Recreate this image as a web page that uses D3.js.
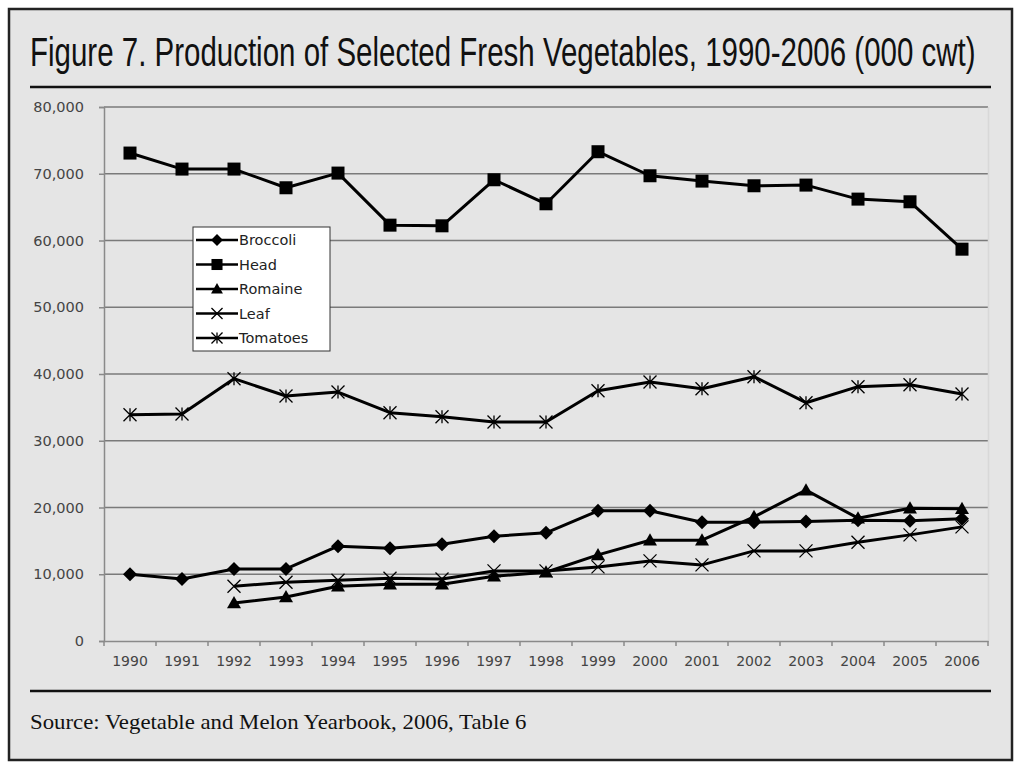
<!DOCTYPE html>
<html>
<head>
<meta charset="utf-8">
<script src="https://cdn.jsdelivr.net/npm/d3@7"></script>
<style>
  html, body { margin: 0; padding: 0; background: #ffffff; }
  svg { display: block; }
</style>
</head>
<body>
<svg id="chart" width="1015" height="762"></svg>
<script>
// Fresh vegetable production, thousand hundredweight
const years = ["1990","1991","1992","1993","1994","1995","1996","1997","1998","1999","2000","2001","2002","2003","2004","2005","2006"];
const broccoli = [10000, 9300, 10800, 10800, 14200, 13900, 14500, 15700, 16200, 19500, 19500, 17800, 17800, 17900, 18100, 18000, 18300];
const head     = [73100, 70700, 70700, 67900, 70100, 62300, 62200, 69100, 65500, 73300, 69700, 68900, 68200, 68300, 66200, 65800, 58700];
const romaine  = [null, null, 5700, 6600, 8200, 8500, 8500, 9700, 10300, 12900, 15100, 15100, 18600, 22600, 18400, 19900, 19800];
const leaf     = [null, null, 8200, 8800, 9100, 9400, 9300, 10500, 10500, 11100, 12000, 11400, 13500, 13500, 14800, 15900, 17100];
const tomatoes = [33900, 34000, 39300, 36700, 37300, 34200, 33600, 32800, 32800, 37500, 38800, 37800, 39600, 35700, 38100, 38400, 37000];
const yTicks = [0, 10000, 20000, 30000, 40000, 50000, 60000, 70000, 80000];

const seriesNames = ["Broccoli", "Head", "Romaine", "Leaf", "Tomatoes"];
const seriesValues = [broccoli, head, romaine, leaf, tomatoes];
const seriesMarkers = ["diamond", "square", "triangle", "x", "asterisk"];

const titleText = "Figure 7. Production of Selected Fresh Vegetables, 1990-2006 (000 cwt)";
const sourceText = "Source: Vegetable and Melon Yearbook, 2006, Table 6";

(function () {
const svg = d3.select("#chart");

// Frame
svg.append("rect").attr("x", 9).attr("y", 9).attr("width", 1003).attr("height", 751)
  .attr("fill", "#e5e5e5").attr("stroke", "#222").attr("stroke-width", 2.5);

// Fit a text element horizontally to a given width by scaling it
function fitText(sel, x0, y0, width) {
  const natural = sel.node().getComputedTextLength();
  const sx = width / natural;
  sel.attr("transform", `translate(${x0},${y0}) scale(${sx},1)`);
}

// Title (condensed) and rules
const title = svg.append("text").attr("x", 0).attr("y", 0)
  .attr("font-family", "'Liberation Sans Narrow', 'Arial Narrow', 'Liberation Sans', sans-serif")
  .attr("font-size", 40).attr("fill", "#111")
  .text(titleText);
fitText(title, 30, 66, 946);

svg.append("line").attr("x1", 30).attr("x2", 991).attr("y1", 87).attr("y2", 87)
  .attr("stroke", "#111").attr("stroke-width", 2.5);
svg.append("line").attr("x1", 30).attr("x2", 991).attr("y1", 691).attr("y2", 691)
  .attr("stroke", "#111").attr("stroke-width", 2.5);

const source = svg.append("text").attr("x", 0).attr("y", 0)
  .attr("font-family", "'Liberation Serif', 'DejaVu Serif', serif")
  .attr("font-size", 21).attr("fill", "#111")
  .text(sourceText);
fitText(source, 30, 729, 497);

// Plot area
const pLeft = 104, pRight = 988, pTop = 107, pBottom = 641;
const x = d3.scaleBand().domain(years).range([pLeft, pRight]);
const y = d3.scaleLinear().domain([0, 80000]).range([pBottom, pTop]);
const cx = d => x(d) + x.bandwidth() / 2;

const g = svg.append("g");

// Horizontal gridlines
g.selectAll("line.grid").data(yTicks.filter(t => t > 0)).enter().append("line")
  .attr("class", "grid")
  .attr("x1", pLeft).attr("x2", pRight)
  .attr("y1", d => y(d)).attr("y2", d => y(d))
  .attr("stroke", "#7a7a7a").attr("stroke-width", 1.5);

// Right plot edge
g.append("line").attr("x1", pRight + 0.5).attr("x2", pRight + 0.5).attr("y1", pTop).attr("y2", pBottom)
  .attr("stroke", "#d8d8d8").attr("stroke-width", 1.5);

// Y axis
const yAxis = d3.axisLeft(y).tickValues(yTicks).tickSize(5).tickPadding(15)
  .tickFormat(d3.format(","));
const yg = svg.append("g").attr("transform", `translate(${pLeft},0)`).call(yAxis);
yg.select(".domain").attr("stroke", "#8a8a8a").attr("stroke-width", 1.5);
yg.selectAll(".tick line").attr("stroke", "#8a8a8a").attr("stroke-width", 1.5);
yg.selectAll(".tick text").attr("font-family", "'DejaVu Sans', Verdana, sans-serif")
  .attr("font-size", 14.5).attr("fill", "#444");

// X axis
const xAxis = d3.axisBottom(x).tickSize(0).tickPadding(15);
const xg = svg.append("g").attr("transform", `translate(0,${pBottom})`).call(xAxis);
xg.select(".domain").attr("stroke", "#8a8a8a").attr("stroke-width", 1.5);
xg.selectAll(".tick text").attr("font-family", "'DejaVu Sans', Verdana, sans-serif")
  .attr("font-size", 14).attr("fill", "#444");
// Category boundary ticks
xg.selectAll("line.bound").data(years).enter().append("line")
  .attr("class", "bound")
  .attr("x1", d => x(d)).attr("x2", d => x(d)).attr("y1", 0).attr("y2", 5)
  .attr("stroke", "#8a8a8a").attr("stroke-width", 1.5);
xg.append("line").attr("x1", pRight).attr("x2", pRight).attr("y1", 0).attr("y2", 5)
  .attr("stroke", "#8a8a8a").attr("stroke-width", 1.5);

// Marker shapes
function drawMarker(sel, type, px, py, s) {
  const k = s || 1;
  if (type === "diamond") {
    const r = 7 * k;
    sel.append("path").attr("d", `M${px},${py - r}L${px + r},${py}L${px},${py + r}L${px - r},${py}Z`)
      .attr("fill", "#000");
  } else if (type === "square") {
    const r = 6.5 * k;
    sel.append("rect").attr("x", px - r).attr("y", py - r).attr("width", 2 * r).attr("height", 2 * r)
      .attr("fill", "#000");
  } else if (type === "triangle") {
    const r = 7 * k;
    sel.append("path").attr("d", `M${px},${py - r}L${px + r},${py + r * 0.75}L${px - r},${py + r * 0.75}Z`)
      .attr("fill", "#000");
  } else if (type === "x") {
    const r = 6.5 * k;
    sel.append("path").attr("d", `M${px - r},${py - r}L${px + r},${py + r}M${px - r},${py + r}L${px + r},${py - r}`)
      .attr("stroke", "#000").attr("stroke-width", 1.3).attr("fill", "none");
  } else if (type === "asterisk") {
    const r = 6.5 * k;
    sel.append("path").attr("d", `M${px - r},${py - r}L${px + r},${py + r}M${px - r},${py + r}L${px + r},${py - r}M${px},${py - r}L${px},${py + r}`)
      .attr("stroke", "#000").attr("stroke-width", 1.3).attr("fill", "none");
  }
}

// Series lines and markers
const line = d3.line()
  .defined(d => d.v !== null)
  .x(d => cx(d.year))
  .y(d => y(d.v));

seriesNames.forEach((name, i) => {
  const pts = years.map((yr, j) => ({ year: yr, v: seriesValues[i][j] }));
  const sg = g.append("g").attr("class", "series");
  sg.append("path").datum(pts).attr("d", line)
    .attr("fill", "none").attr("stroke", "#000").attr("stroke-width", 3)
    .attr("stroke-linejoin", "round");
  pts.filter(p => p.v !== null).forEach(p => drawMarker(sg, seriesMarkers[i], cx(p.year), y(p.v)));
});

// Legend
const lg = svg.append("g").attr("transform", "translate(193,227)");
lg.append("rect").attr("x", 0).attr("y", 0).attr("width", 137).attr("height", 124)
  .attr("fill", "#ffffff").attr("stroke", "#333").attr("stroke-width", 1);
seriesNames.forEach((name, i) => {
  const ly = 13 + i * 24.5;
  lg.append("line").attr("x1", 3).attr("x2", 45).attr("y1", ly).attr("y2", ly)
    .attr("stroke", "#000").attr("stroke-width", 2.5);
  drawMarker(lg, seriesMarkers[i], 24, ly, 0.85);
  lg.append("text").attr("x", 46).attr("y", ly + 5)
    .attr("font-family", "'DejaVu Sans', Verdana, sans-serif")
    .attr("font-size", 14.5).attr("fill", "#222")
    .text(name);
});
})();
</script>
</body>
</html>
